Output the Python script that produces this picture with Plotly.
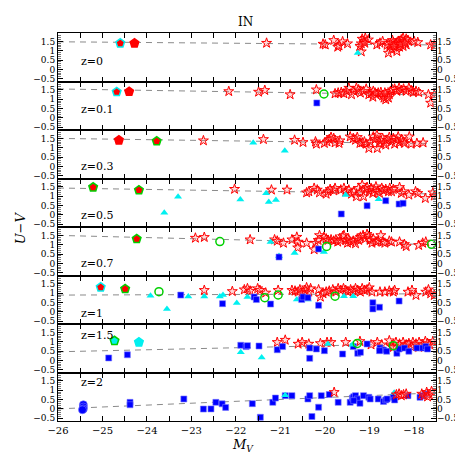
import plotly.graph_objects as go
from plotly.subplots import make_subplots

# redshift panels, top to bottom
z_labels = ["z=0", "z=0.1", "z=0.3", "z=0.5", "z=0.7", "z=1", "z=1.5", "z=2"]
z_label_y = [0.43, 0.44, 0.0, -0.04, 0.02, -0.11, 1.34, 1.39]

# dashed colour-magnitude relation: U-V at M_V=-26 and at M_V=-17.5
rel_x = [-26, -17.5]
rel_left = [1.48, 1.55, 1.50, 1.44, 1.50, 0.90, 0.46, 0.00]
rel_right = [1.31, 1.23, 1.21, 1.12, 1.00, 0.97, 0.92, 0.86]

x_ticks = [-26, -25, -24, -23, -22, -21, -20, -19, -18]
y_ticks = [-0.5, 0, 0.5, 1, 1.5]
y_tick_text = ["\u22120.5", "0", "0.5", "1", "1.5"]

# ---- z=0 ----
stars_0 = [(-21.31, 1.41), (-20.04, 1.36), (-19.99, 1.32), (-19.80, 1.56), (-19.71, 1.20), (-19.68, 1.27),
           (-19.60, 1.49), (-19.49, 1.38), (-19.21, 1.24), (-19.18, 0.95), (-19.16, 1.63), (-19.12, 1.50),
           (-19.09, 1.68), (-19.02, 1.59), (-19.18, 1.38), (-19.10, 1.41), (-18.83, 1.32), (-18.76, 1.41),
           (-18.70, 1.50), (-18.57, 0.88), (-18.54, 1.24), (-18.50, 1.06), (-18.46, 1.45), (-18.43, 1.32),
           (-18.39, 1.15), (-18.35, 1.50), (-18.32, 1.41), (-18.28, 1.59), (-18.24, 1.68), (-18.21, 1.50),
           (-18.17, 1.32), (-18.13, 1.56), (-18.38, 0.97), (-18.48, 1.56), (-18.32, 1.20), (-18.24, 1.24),
           (-18.17, 1.63), (-17.99, 1.50), (-17.91, 1.45), (-17.62, 1.32), (-17.54, 1.27), (-18.60, 1.30),
           (-18.52, 1.40), (-18.40, 1.38), (-18.30, 1.35), (-18.20, 1.42), (-18.45, 1.25)]
pent_cyan_0 = [(-24.60, 1.40)]
pent_red_0 = [(-24.28, 1.40)]
tri_0 = [(-19.26, 0.88)]

# ---- z=0.1 ----
stars_1 = [(-22.16, 1.42), (-21.49, 1.39), (-21.35, 1.48), (-20.78, 1.25), (-20.19, 1.51), (-19.77, 1.30),
           (-19.70, 1.34), (-19.63, 1.37), (-19.57, 1.30), (-19.51, 1.43), (-19.46, 1.60), (-19.40, 1.25),
           (-19.35, 1.43), (-19.29, 1.60), (-19.24, 1.51), (-19.20, 1.34), (-19.13, 1.43), (-19.07, 1.55),
           (-19.01, 1.25), (-18.96, 1.30), (-18.91, 1.43), (-18.85, 1.25), (-18.80, 1.34), (-18.74, 1.37),
           (-18.70, 1.19), (-18.67, 1.07), (-18.63, 0.98), (-18.60, 1.16), (-18.55, 1.25), (-18.52, 1.43),
           (-18.48, 1.51), (-18.43, 1.55), (-18.38, 1.43), (-18.33, 1.60), (-18.28, 1.48), (-18.23, 1.55),
           (-18.17, 1.43), (-18.11, 1.60), (-18.06, 1.48), (-18.01, 1.37), (-17.95, 1.43), (-17.89, 1.37),
           (-17.67, 1.25), (-17.62, 0.80), (-17.54, 1.25), (-18.57, 1.07), (-18.65, 1.34), (-18.87, 1.34),
           (-18.92, 1.12)]
pent_cyan_1 = [(-24.68, 1.39)]
pent_red_1 = [(-24.40, 1.41)]
circ_1 = [(-20.02, 1.28)]
sq_1 = [(-20.18, 0.80)]

# ---- z=0.3 ----
stars_2 = [(-22.73, 1.38), (-21.38, 1.45), (-20.68, 1.41), (-20.49, 1.29), (-20.21, 1.32), (-20.19, 1.20),
           (-20.01, 1.24), (-19.95, 1.32), (-19.90, 1.45), (-19.86, 1.56), (-19.80, 1.50), (-19.77, 1.27),
           (-19.68, 1.24), (-19.66, 1.38), (-19.43, 1.59), (-19.36, 1.50), (-19.31, 1.41), (-19.27, 1.56),
           (-19.21, 1.24), (-19.16, 1.27), (-19.11, 1.32), (-19.07, 1.20), (-19.01, 0.97), (-18.98, 1.32),
           (-18.91, 1.59), (-18.87, 1.45), (-18.83, 1.68), (-18.82, 0.97), (-18.77, 1.24), (-18.74, 1.38),
           (-18.70, 1.50), (-18.67, 1.27), (-18.63, 1.15), (-18.60, 1.41), (-18.55, 1.56), (-18.50, 1.32),
           (-18.46, 1.50), (-18.43, 1.20), (-18.39, 1.41), (-18.35, 1.59), (-18.32, 1.27), (-18.28, 1.45),
           (-18.24, 1.32), (-18.21, 1.24), (-18.10, 1.59), (-18.06, 1.20), (-17.93, 1.24), (-17.79, 1.27)]
pent_red_2 = [(-24.63, 1.40)]
pent_green_2 = [(-23.78, 1.35)]
tri_2 = [(-21.61, 1.27), (-20.90, 0.84)]

# ---- z=0.5 ----
stars_3 = [(-22.03, 1.38), (-21.20, 1.34), (-20.85, 1.34), (-20.41, 1.19), (-20.36, 1.25), (-20.24, 1.43),
           (-20.17, 1.34), (-20.12, 1.19), (-19.97, 1.12), (-19.93, 1.25), (-19.88, 1.37), (-19.80, 1.30),
           (-19.77, 1.43), (-19.64, 1.34), (-19.57, 1.43), (-19.53, 1.25), (-19.46, 1.34), (-19.40, 1.12),
           (-19.35, 1.25), (-19.29, 0.98), (-19.24, 1.43), (-19.20, 1.19), (-19.16, 1.60), (-19.13, 0.98),
           (-19.09, 1.34), (-19.05, 1.48), (-19.00, 1.25), (-18.96, 1.43), (-18.92, 1.16), (-18.89, 1.34),
           (-18.85, 1.51), (-18.82, 1.25), (-18.77, 1.16), (-18.72, 1.43), (-18.68, 1.30), (-18.63, 1.37),
           (-18.57, 1.25), (-18.54, 1.43), (-18.50, 1.25), (-18.46, 1.37), (-18.32, 1.48), (-18.28, 1.16),
           (-18.23, 1.25), (-18.11, 1.07), (-17.96, 1.25), (-17.91, 1.16), (-17.74, 0.89), (-17.57, 1.19),
           (-17.54, 1.02)]
pent_green_3 = [(-25.21, 1.48), (-24.18, 1.33)]
tri_3 = [(-23.30, 0.97), (-23.61, 0.12), (-21.90, 0.82), (-21.32, 1.16), (-21.26, 0.69), (-21.10, 0.80),
         (-19.53, 1.07), (-18.79, 0.84)]
sq_3 = [(-19.63, 0.05), (-19.05, 0.49), (-18.63, 0.76), (-18.33, 0.58), (-18.24, 0.62)]

# ---- z=0.7 ----
stars_4 = [(-22.91, 1.36), (-22.71, 1.40), (-21.68, 1.27), (-21.13, 1.27), (-21.07, 1.20), (-20.93, 1.09),
           (-20.74, 1.27), (-20.63, 1.41), (-20.60, 1.15), (-20.61, 0.84), (-20.41, 1.09), (-20.24, 0.74),
           (-20.21, 1.09), (-20.15, 1.24), (-20.12, 1.50), (-20.02, 1.41), (-19.97, 1.32), (-19.93, 1.24),
           (-19.86, 1.27), (-19.80, 1.20), (-19.75, 1.27), (-19.71, 1.15), (-19.65, 1.24), (-19.60, 1.45),
           (-19.57, 1.50), (-19.53, 1.24), (-19.49, 1.09), (-19.46, 1.27), (-19.42, 1.15), (-19.36, 1.20),
           (-19.31, 1.06), (-19.27, 1.32), (-19.24, 1.24), (-19.20, 1.41), (-19.14, 1.50), (-19.09, 1.32),
           (-19.05, 1.56), (-19.01, 1.45), (-18.98, 1.24), (-18.94, 1.09), (-18.91, 1.32), (-18.85, 1.15),
           (-18.80, 1.20), (-18.74, 1.50), (-18.70, 1.15), (-18.65, 1.09), (-18.55, 1.20), (-18.50, 1.15),
           (-18.32, 1.15), (-18.21, 1.02), (-18.17, 0.91), (-17.89, 0.97), (-17.80, 1.09), (-17.73, 1.15)]
pent_green_4 = [(-24.23, 1.31)]
tri_4 = [(-21.22, 1.15), (-20.68, 0.56), (-20.02, 0.61), (-21.03, 0.40)]
sq_4 = [(-21.03, 0.34), (-20.14, 0.77)]
circ_4 = [(-22.36, 1.17), (-19.96, 0.91), (-17.60, 1.02)]

# ---- z=1 ----
stars_5 = [(-22.71, 1.16), (-22.08, 1.10), (-21.81, 1.19), (-21.74, 1.25), (-21.68, 1.12), (-21.51, 1.25),
           (-21.46, 1.16), (-21.33, 1.02), (-21.05, 1.16), (-20.74, 1.16), (-20.67, 1.12), (-20.60, 1.07),
           (-20.56, 1.19), (-20.51, 1.02), (-20.45, 1.16), (-20.41, 1.30), (-20.36, 1.07), (-20.32, 1.25),
           (-20.14, 1.19), (-20.10, 0.80), (-20.04, 0.98), (-19.97, 1.07), (-19.90, 1.12), (-19.82, 1.19),
           (-19.75, 1.07), (-19.70, 1.25), (-19.64, 1.16), (-19.58, 1.25), (-19.53, 1.16), (-19.48, 1.07),
           (-19.42, 1.19), (-19.36, 1.12), (-19.31, 1.25), (-19.26, 1.16), (-19.20, 1.07), (-19.16, 1.25),
           (-19.11, 1.16), (-19.05, 1.19), (-19.00, 1.30), (-18.94, 1.07), (-18.76, 1.07), (-18.65, 1.07),
           (-18.55, 1.12), (-18.46, 1.07), (-18.43, 1.16), (-18.13, 1.07), (-18.04, 1.16), (-17.95, 0.89),
           (-17.73, 1.07), (-17.67, 1.19), (-17.62, 0.98), (-17.54, 0.89)]
pent_cyan_5 = [(-25.04, 1.32)]
pent_green_5 = [(-24.49, 1.23)]
circ_5 = [(-23.73, 1.08), (-21.35, 0.76), (-21.05, 0.91), (-19.77, 0.84)]
tri_5 = [(-23.92, 0.87), (-23.55, 0.15), (-23.07, 0.83), (-22.71, 0.83), (-22.36, 0.83), (-22.29, 0.90),
         (-21.98, 0.48), (-21.74, 0.80), (-20.63, 0.66), (-20.38, 0.66), (-19.57, 0.84), (-19.36, 0.84)]
sq_5 = [(-23.24, 0.90), (-22.30, 0.44), (-21.59, 0.80), (-21.54, 0.66), (-21.22, 0.42), (-20.52, 0.66),
        (-20.49, 0.80), (-20.38, 0.76), (-20.14, 0.35), (-18.92, 0.49), (-18.92, 0.16), (-18.77, 0.25),
        (-18.33, 0.58)]

# ---- z=1.5 ----
stars_6 = [(-21.07, 0.97), (-20.89, 1.09), (-20.60, 0.88), (-20.51, 0.97), (-20.36, 0.88), (-20.10, 0.91),
           (-19.95, 0.97), (-19.86, 0.97), (-19.53, 0.97), (-19.21, 1.02), (-18.96, 0.84), (-18.82, 0.97),
           (-18.72, 0.84), (-18.55, 1.06), (-18.50, 0.74), (-18.46, 0.70), (-18.40, 0.97), (-18.32, 0.88),
           (-18.24, 0.97), (-18.21, 0.70), (-18.17, 0.84), (-18.11, 0.91), (-18.06, 0.74), (-18.02, 0.97),
           (-17.95, 0.88), (-17.89, 0.70), (-17.88, 0.97), (-17.80, 0.84), (-17.74, 1.02), (-17.69, 0.91),
           (-17.64, 0.84), (-17.57, 1.02)]
cpent_green_6 = [(-24.73, 1.05)]
cpent_cyan_6 = [(-24.18, 0.97)]
sq_6 = [(-24.86, 0.13), (-24.44, 0.30), (-21.89, 0.81), (-21.77, 0.74), (-21.74, 0.79), (-21.48, 0.77),
        (-21.07, 0.57), (-20.95, 0.74), (-20.34, 0.66), (-20.34, 0.11), (-20.19, 0.61), (-20.01, 0.52),
        (-19.60, 0.34), (-19.36, 0.74), (-19.26, 0.38), (-19.20, 0.43), (-19.05, 0.88), (-18.76, 0.66),
        (-18.68, 0.56), (-18.61, 0.49), (-18.77, 0.52), (-18.38, 0.38), (-18.33, 0.61), (-18.21, 0.66),
        (-18.11, 0.49), (-17.93, 0.66), (-17.80, 0.66), (-17.73, 0.74), (-17.69, 0.61)]
tri_6 = [(-21.89, 0.43), (-21.42, 0.16), (-19.93, 0.88), (-19.38, 0.84)]
circ_6 = [(-19.27, 0.91), (-18.46, 0.79)]

# ---- z=2 ----
stars_7 = [(-19.79, 0.89), (-18.39, 0.76), (-18.33, 0.80), (-18.28, 0.71), (-18.23, 0.76), (-18.17, 0.80),
           (-17.82, 0.80), (-17.77, 0.71), (-17.71, 0.89), (-17.65, 0.76), (-17.60, 0.94), (-17.69, 0.65)]
dots_7 = [(-25.43, 0.22), (-25.43, 0.10), (-25.43, 0.00), (-25.45, -0.05)]
sq_7 = [(-24.38, 0.35), (-24.38, 0.22), (-23.17, 0.53), (-22.73, -0.01), (-22.56, 0.00), (-22.45, 0.35),
        (-22.31, 0.27), (-22.23, 0.08), (-21.63, 0.28), (-21.45, -0.45), (-21.17, 0.35), (-21.11, 0.58),
        (-20.89, 0.71), (-20.74, 0.71), (-20.38, 0.53), (-20.34, 0.71), (-20.14, 0.09), (-20.29, -0.41),
        (-20.08, 0.71), (-19.90, 0.77), (-19.70, 0.35), (-19.43, 0.35), (-19.38, 0.58), (-19.35, 0.65),
        (-19.31, 0.71), (-19.27, 0.53), (-19.35, 0.44), (-19.21, 0.30), (-19.13, 0.71), (-19.01, 0.62),
        (-18.98, 0.53), (-18.80, 0.53), (-18.68, 0.40), (-18.63, 0.48), (-18.60, 0.53), (-18.46, 0.62),
        (-18.43, 0.48), (-18.13, 0.71), (-17.86, 0.62), (-17.80, 0.71), (-17.74, 0.80)]
tri_7 = [(-20.89, 0.73), (-18.44, 0.86)]

# marker styles
RED, CYAN, BLUE, GREEN = "#ff0000", "#00f0f0", "#0000ff", "#00d000"
STAR = dict(symbol="star", size=7.5, color="rgba(255,130,130,0.3)", line=dict(color=RED, width=1))
SQUARE = dict(symbol="square", size=6, color=BLUE, line=dict(color="rgba(120,120,255,0.6)", width=1))
TRI = dict(symbol="triangle-up", size=7, color=CYAN, line=dict(width=0))
CIRC = dict(symbol="circle-open", size=8, color=GREEN, line=dict(color=GREEN, width=1.5))
DOT = dict(symbol="circle", size=8, color=BLUE, line=dict(color="rgba(120,120,255,0.6)", width=1))


def pent(fill, edge):
    return dict(symbol="pentagon", size=9, color=fill, line=dict(color=edge, width=1.5))


panels = [
    [(stars_0, STAR), (tri_0, TRI), (pent_cyan_0, pent(RED, CYAN)), (pent_red_0, pent(RED, RED))],
    [(stars_1, STAR), (sq_1, SQUARE), (circ_1, CIRC), (pent_cyan_1, pent(RED, CYAN)), (pent_red_1, pent(RED, RED))],
    [(stars_2, STAR), (tri_2, TRI), (pent_red_2, pent(RED, RED)), (pent_green_2, pent(RED, GREEN))],
    [(stars_3, STAR), (tri_3, TRI), (sq_3, SQUARE), (pent_green_3, pent(RED, GREEN))],
    [(stars_4, STAR), (tri_4, TRI), (sq_4, SQUARE), (circ_4, CIRC), (pent_green_4, pent(RED, GREEN))],
    [(stars_5, STAR), (tri_5, TRI), (sq_5, SQUARE), (circ_5, CIRC), (pent_cyan_5, pent(RED, CYAN)),
     (pent_green_5, pent(RED, GREEN))],
    [(stars_6, STAR), (sq_6, SQUARE), (tri_6, TRI), (circ_6, CIRC), (cpent_green_6, pent(CYAN, GREEN)),
     (cpent_cyan_6, pent(CYAN, CYAN))],
    [(sq_7, SQUARE), (tri_7, TRI), (stars_7, STAR), (dots_7, DOT)],
]

N = len(z_labels)
Y_RANGE = [-0.65, 1.95]
FONT = "DejaVu Serif"
TICK_FONT = dict(family=FONT, size=9, color="black")

fig = make_subplots(rows=N, cols=1, shared_xaxes=True, vertical_spacing=0)

for i in range(N):
    row = i + 1
    xa = "x" if row == 1 else f"x{row}"
    ya = "y" if row == 1 else f"y{row}"
    fig.add_trace(go.Scatter(x=rel_x, y=[rel_left[i], rel_right[i]], mode="lines",
                             line=dict(color="#8a8a8a", width=1, dash="6px,5px"),
                             hoverinfo="skip", showlegend=False), row=row, col=1)
    for pts, mk in panels[i]:
        fig.add_trace(go.Scatter(x=[p[0] for p in pts], y=[p[1] for p in pts], mode="markers",
                                 marker=mk, showlegend=False), row=row, col=1)
    fig.add_annotation(x=-25.52, y=z_label_y[i], xref=xa, yref=ya, text=z_labels[i], showarrow=False,
                       xanchor="left", yanchor="middle", font=dict(family=FONT, size=11, color="black"))

    # right-hand tick labels on an overlaid axis
    rid = N + row
    fig.add_trace(go.Scatter(x=[-30], y=[0], yaxis=f"y{rid}", xaxis=xa, mode="markers",
                             marker=dict(size=1, opacity=0), showlegend=False, hoverinfo="skip"))
    fig.layout[f"yaxis{rid}"] = dict(overlaying=ya, side="right", anchor=xa, range=Y_RANGE,
                                     tickvals=y_ticks, ticktext=y_tick_text, ticks="inside", ticklen=5,
                                     tickcolor="black", showgrid=False, zeroline=False, showline=False,
                                     minor=dict(dtick=0.1, ticks="inside", ticklen=3, tickcolor="#777"),
                                     tickfont=TICK_FONT)

fig.update_yaxes(range=Y_RANGE, tickvals=y_ticks, ticktext=y_tick_text, ticks="inside", ticklen=5,
                 tickcolor="black", showgrid=False, zeroline=False, showline=True, linecolor="black",
                 linewidth=1, mirror=True,
                 minor=dict(dtick=0.1, ticks="inside", ticklen=3, tickcolor="#777"),
                 tickfont=TICK_FONT, selector=lambda a: a.overlaying is None)
fig.update_xaxes(range=[-26, -17.5], tickvals=x_ticks,
                 ticktext=["\u2212" + str(abs(v)) for v in x_ticks], ticks="inside", ticklen=5,
                 tickcolor="black", showgrid=False, zeroline=False, showline=True, linecolor="black",
                 linewidth=1, mirror="ticks",
                 minor=dict(dtick=0.5, ticks="inside", ticklen=5, tickcolor="black"),
                 tickfont=dict(family=FONT, size=10, color="black"))

fig.add_annotation(x=0.496, y=1.028, xref="paper", yref="paper", text="IN", showarrow=False,
                   xanchor="center", yanchor="middle", font=dict(family=FONT, size=12, color="black"))
fig.add_annotation(x=0.49, y=-0.062, xref="paper", yref="paper", text="<i>M</i><sub><i>V</i></sub>",
                   showarrow=False, xanchor="center", yanchor="middle",
                   font=dict(family=FONT, size=13, color="black"))
fig.add_annotation(x=-0.1, y=0.497, xref="paper", yref="paper", text="<i>U</i>\u2212<i>V</i>",
                   showarrow=False, textangle=-90, xanchor="center", yanchor="middle",
                   font=dict(family=FONT, size=13, color="black"))

fig.update_layout(width=463, height=463, margin=dict(l=50, r=26, t=25, b=50),
                  paper_bgcolor="white", plot_bgcolor="white", showlegend=False)

fig.write_html("out.html")
